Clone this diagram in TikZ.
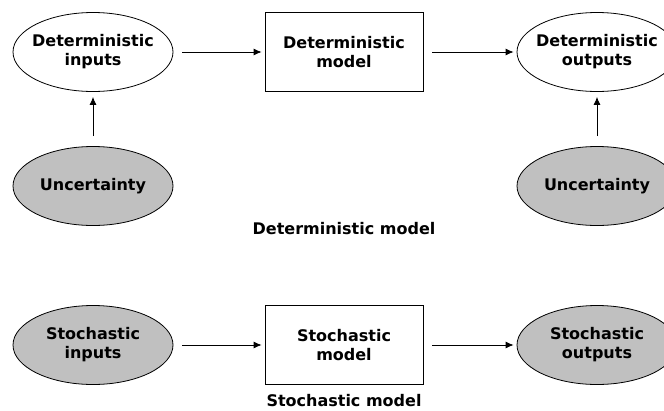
\documentclass[tikz,border=0pt]{standalone}
\usepackage{fontspec}
\setmainfont{DejaVu Sans}
\usetikzlibrary{shapes.geometric,arrows.meta}
\definecolor{silver}{RGB}{192,192,192}
\begin{document}
\begin{tikzpicture}%
	[x=1pt, y=-1pt,
	every node/.style={font=\bfseries\fontsize{16}{19}\selectfont, align=center},
	oval/.style={ellipse, draw=black, line width=0.8pt, fill=white, minimum width=160pt, minimum height=79pt, inner xsep=-8pt, inner ysep=0pt},
	greyoval/.style={oval, fill=silver},
	modelbox/.style={rectangle, draw=black, line width=0.8pt, fill=white, minimum width=158pt, minimum height=79pt, inner sep=0pt},
	caption/.style={inner sep=0pt, anchor=base},
	flow/.style={-{Latex[length=8pt,width=7pt]}, line width=0.8pt, shorten <=9pt, shorten >=3pt},
	rise/.style={-{Latex[length=8pt,width=7pt]}, line width=0.8pt, shorten <=10pt, shorten >=5pt}]
%
\useasboundingbox (0,0) rectangle (664,410);
\clip (0,0) rectangle (664,410);
%%
%% Deterministic row
%%
\node[oval] (detin) at (93,52) {Deterministic\\inputs};
\node[modelbox] (detmod) at (344,52) {Deterministic\\model};
\node[oval] (detout) at (597,52) {Deterministic\\outputs};
\node[greyoval] (uncin) at (93,186) {Uncertainty};
\node[greyoval] (uncout) at (597,186) {Uncertainty};
\node[caption] (detcap) at (344,234) {Deterministic model};
%%
\draw[flow] (detin) -- (detmod);
\draw[flow] (detmod) -- (detout);
\draw[rise] (uncin) -- (detin);
\draw[rise] (uncout) -- (detout);
%%
%% Stochastic row
%%
\node[greyoval] (stoin) at (93,345) {Stochastic\\inputs};
\node[modelbox] (stomod) at (344,345) {Stochastic\\model};
\node[greyoval] (stoout) at (597,345) {Stochastic\\outputs};
\node[caption] (stocap) at (344,406) {Stochastic model};
%%
\draw[flow] (stoin) -- (stomod);
\draw[flow] (stomod) -- (stoout);
\end{tikzpicture}
\end{document}
